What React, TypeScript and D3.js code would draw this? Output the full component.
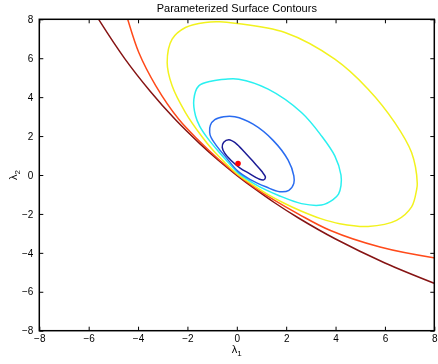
import React, { useEffect, useRef } from 'react';
import * as d3 from 'd3';

// contour levels, innermost first (lambda1, lambda2)
const navyLevel = [
  [-0.32, 1.81], [-0.53, 1.68], [-0.59, 1.42], [-0.49, 1.12], [-0.24, 0.76], [0.12, 0.37],
  [0.53, 0.06], [0.89, -0.2], [1.09, -0.25], [1.16, -0.12], [1.01, 0.19], [0.69, 0.65],
  [0.32, 1.17], [-0.04, 1.63],
];
const blueLevel = [
  [-0.08, 2.99], [0.66, 2.61], [1.47, 1.78], [2.08, 0.76], [2.31, -0.05], [2.31, -0.43],
  [2.11, -0.79], [1.74, -0.86], [1.2, -0.62], [0.53, -0.22], [0.04, 0.2], [-0.42, 0.88],
  [-0.85, 1.55], [-1.05, 1.95], [-1.1, 2.2], [-1.07, 2.56], [-0.89, 2.84], [-0.53, 2.99],
];
const cyanLevel = [
  [0.08, 4.92], [1.27, 4.41], [2.62, 3.21], [3.43, 2.01], [3.97, 0.98], [4.22, 0.0],
  [4.22, -0.55], [4.12, -0.98], [3.9, -1.26], [3.43, -1.54], [2.62, -1.47], [1.67, -1.04],
  [1.2, -0.78], [0.73, -0.47], [0.04, 0.12], [-0.3, 0.58], [-0.75, 1.22], [-1.2, 1.92],
  [-1.5, 2.5], [-1.67, 3.03], [-1.74, 3.89], [-1.54, 4.58], [-1.0, 4.83], [-0.46, 4.92],
];
const yellowLevel = [
  [-0.69, 7.87], [-0.08, 7.8], [1.95, 7.32], [3.97, 5.95], [5.32, 4.41], [6.4, 2.69],
  [7.08, 1.15], [7.31, -0.43], [7.28, -0.78], [7.08, -1.64], [6.47, -2.33], [5.32, -2.64],
  [4.17, -2.5], [3.4, -2.24], [2.6, -1.85], [1.9, -1.44], [1.2, -0.96], [0.5, -0.385],
  [0.0, 0.07], [-0.5, 0.66], [-1.0, 1.32], [-1.4, 1.95], [-2.08, 3.21], [-2.62, 4.58],
  [-2.82, 5.78], [-2.62, 6.98], [-2.08, 7.58], [-1.27, 7.84],
];
const orangeLevel = [
  [-4.48, 8.25], [-4.42, 8.0], [-3.97, 6.29], [-3.28, 4.58], [-2.35, 2.86], [-1.5, 1.72],
  [-0.75, 0.82], [0.0, 0.03], [0.75, -0.67], [1.5, -1.28], [2.5, -2.01], [3.77, -2.84],
  [5.8, -3.7], [8.03, -4.26], [8.3, -4.3],
];
const maroonLevel = [
  [-5.7, 8.21], [-5.59, 7.98], [-4.54, 5.98], [-3.5, 4.29], [-2.5, 2.86], [-1.5, 1.61],
  [-0.75, 0.76], [0.0, -0.015], [0.75, -0.73], [1.5, -1.4], [2.5, -2.21], [4.0, -3.29],
  [6.0, -4.52], [8.03, -5.58], [8.3, -5.71],
];
const estimate = [0.05, 0.59];

const closedLevels = [
  { pts: navyLevel, color: '#1c1c96' },
  { pts: blueLevel, color: '#2a6cf0' },
  { pts: cyanLevel, color: '#2af0f0' },
  { pts: yellowLevel, color: '#f2f21e' },
];
const openLevels = [
  { pts: orangeLevel, color: '#ff4a1a' },
  { pts: maroonLevel, color: '#861414' },
];

const xTicks = [-8, -6, -4, -2, 0, 2, 4, 6, 8];
const yTicks = [-8, -6, -4, -2, 0, 2, 4, 6, 8];

const App = () => {
  const svgRef = useRef(null);

  useEffect(() => {
    const width = 438;
    const height = 364;
    const margin = { top: 19.3, right: 3.7, bottom: 33.3, left: 39.3 };
    const font = '"Liberation Sans", Arial, sans-serif';

    d3.select(svgRef.current).selectAll('*').remove();
    const svg = d3.select(svgRef.current)
      .attr('width', width)
      .attr('height', height)
      .style('font-family', font);

    const x = d3.scaleLinear().domain([-8, 8]).range([margin.left, width - margin.right]);
    const y = d3.scaleLinear().domain([-8, 8]).range([height - margin.bottom, margin.top]);

    svg.append('defs').append('clipPath').attr('id', 'plotClip')
      .append('rect')
      .attr('x', x(-8)).attr('y', y(8))
      .attr('width', x(8) - x(-8)).attr('height', y(-8) - y(8));

    const g = svg.append('g').attr('clip-path', 'url(#plotClip)');

    const closedLine = d3.line()
      .x(d => x(d[0])).y(d => y(d[1]))
      .curve(d3.curveCatmullRomClosed.alpha(0.5));
    const openLine = d3.line()
      .x(d => x(d[0])).y(d => y(d[1]))
      .curve(d3.curveCatmullRom.alpha(0.5));

    openLevels.slice().reverse().forEach(l => {
      g.append('path').attr('d', openLine(l.pts))
        .attr('fill', 'none').attr('stroke', l.color).attr('stroke-width', 1.5);
    });
    closedLevels.slice().reverse().forEach(l => {
      g.append('path').attr('d', closedLine(l.pts))
        .attr('fill', 'none').attr('stroke', l.color).attr('stroke-width', 1.5);
    });

    g.append('circle')
      .attr('cx', x(estimate[0])).attr('cy', y(estimate[1]))
      .attr('r', 2.8).attr('fill', '#ff0000');

    // axes, MATLAB style box with inward ticks
    const bottom = svg.append('g')
      .attr('transform', `translate(0,${y(-8)})`)
      .call(d3.axisBottom(x).tickValues(xTicks).tickSize(-4).tickPadding(4));
    const left = svg.append('g')
      .attr('transform', `translate(${x(-8)},0)`)
      .call(d3.axisLeft(y).tickValues(yTicks).tickSize(-4).tickPadding(6));
    svg.append('g')
      .attr('transform', `translate(0,${y(8)})`)
      .call(d3.axisTop(x).tickValues(xTicks).tickSize(-4).tickFormat(() => ''));
    svg.append('g')
      .attr('transform', `translate(${x(8)},0)`)
      .call(d3.axisRight(y).tickValues(yTicks).tickSize(-4).tickFormat(() => ''));

    svg.selectAll('.domain').remove();
    svg.selectAll('.tick line').attr('stroke', '#000').attr('stroke-width', 1);
    [bottom, left].forEach(a => a.selectAll('text')
      .style('font-family', font).style('font-size', '10px').attr('fill', '#000'));

    svg.append('rect')
      .attr('x', x(-8)).attr('y', y(8))
      .attr('width', x(8) - x(-8)).attr('height', y(-8) - y(8))
      .attr('fill', 'none').attr('stroke', '#000').attr('stroke-width', 1.5);

    svg.append('text')
      .attr('x', (x(-8) + x(8)) / 2).attr('y', 12)
      .attr('text-anchor', 'middle')
      .style('font-size', '11px')
      .text('Parameterized Surface Contours');

    const xl = svg.append('text')
      .attr('x', (x(-8) + x(8)) / 2).attr('y', 352.5)
      .attr('text-anchor', 'middle')
      .style('font-size', '11px');
    xl.append('tspan').text('λ');
    xl.append('tspan').attr('dy', 3).style('font-size', '8px').text('1');

    const yl = svg.append('text')
      .attr('transform', `translate(17,${(y(-8) + y(8)) / 2}) rotate(-90)`)
      .attr('text-anchor', 'middle')
      .style('font-size', '11px');
    yl.append('tspan').text('λ');
    yl.append('tspan').attr('dy', 3).style('font-size', '8px').text('2');
  }, []);

  return (
    <div style={{ position: 'fixed', left: 0, top: 0 }}>
      <svg ref={svgRef}></svg>
    </div>
  );
};

export default App;
